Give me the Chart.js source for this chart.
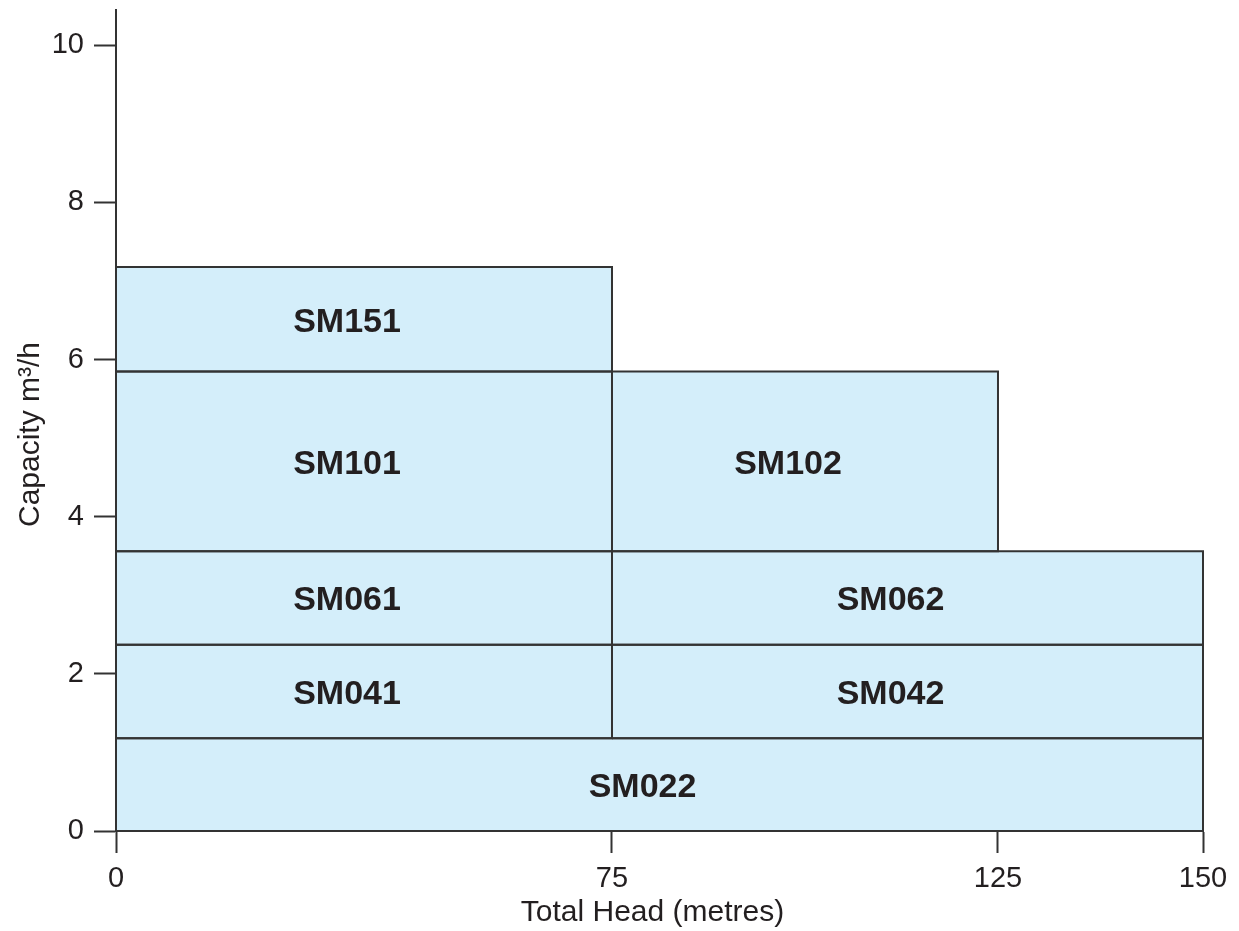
<!DOCTYPE html>
<html>
<head>
<meta charset="utf-8">
<script src="https://cdn.jsdelivr.net/npm/chart.js@4/dist/chart.umd.min.js"></script>
<style>
  html, body { margin: 0; padding: 0; background: #ffffff; }
  #wrap { width: 1239px; height: 931px; position: relative; }
</style>
</head>
<body>
<div id="wrap"><canvas id="c" width="1239" height="931"></canvas></div>
<script>
// ---- Data ----
const models   = ['SM022', 'SM041', 'SM042', 'SM061', 'SM062', 'SM101', 'SM102', 'SM151'];
const headFrom = [0,       0,       75,      0,       75,      0,       75,      0];
const headTo   = [150,     75,      150,     75,      150,     75,      125,     75];
const capFrom  = [0,       1.18,    1.18,    2.37,    2.37,    3.56,    3.56,    5.85];
const capTo    = [1.18,    2.37,    2.37,    3.56,    3.56,    5.85,    5.85,    7.18];
const xTicks   = [0, 75, 125, 150];
const yTicks   = [0, 2, 4, 6, 8, 10];
const xTitle   = 'Total Head (metres)';
const yTitle   = 'Capacity m³/h';

// ---- Styles / layout ----
const FILL = 'rgb(212, 238, 250)';
const INK = '#333333';
const TEXT = '#231f20';
const FONT = '"Liberation Sans", Arial, Helvetica, sans-serif';
// the original's head axis is not to scale: fraction of axis width at each tick
const X_TICK_FRACTIONS = [0, 0.4563, 0.8114, 1];

class PiecewiseScale extends Chart.LinearScale {
  static id = 'piecewise';
  _toDecimal(value) {
    const v = xTicks, d = X_TICK_FRACTIONS;
    let i = 1;
    while (i < v.length - 1 && value > v[i]) i++;
    return d[i - 1] + (value - v[i - 1]) / (v[i] - v[i - 1]) * (d[i] - d[i - 1]);
  }
  getPixelForValue(value) {
    if (value === null || value === undefined) return NaN;
    return this.getPixelForDecimal(this._toDecimal(value));
  }
  getValueForPixel(pixel) {
    const dec = this.getDecimalForPixel(pixel);
    const v = xTicks, d = X_TICK_FRACTIONS;
    let i = 1;
    while (i < d.length - 1 && dec > d[i]) i++;
    return v[i - 1] + (dec - d[i - 1]) / (d[i] - d[i - 1]) * (v[i] - v[i - 1]);
  }
}
Chart.register(PiecewiseScale);

const datasets = [];
models.forEach((m, i) => {
  datasets.push({
    label: m + ' area',
    data: [{x: headFrom[i], y: capTo[i]}, {x: headTo[i], y: capTo[i]}],
    fill: {value: capFrom[i]},
    backgroundColor: FILL,
    borderWidth: 0,
    borderColor: 'rgba(0,0,0,0)',
    pointRadius: 0,
    clip: false,
    order: 2
  });
});
models.forEach((m, i) => {
  datasets.push({
    label: m,
    data: [
      {x: headFrom[i], y: capFrom[i]},
      {x: headFrom[i], y: capTo[i]},
      {x: headTo[i], y: capTo[i]},
      {x: headTo[i], y: capFrom[i]},
      {x: headFrom[i], y: capFrom[i]}
    ],
    fill: false,
    borderColor: INK,
    borderWidth: 2,
    pointRadius: 0,
    tension: 0,
    clip: false,
    order: 1
  });
});

const labelPlugin = {
  id: 'boxLabels',
  afterDatasetsDraw(chart) {
    const {ctx, scales: {x, y}} = chart;
    ctx.save();
    ctx.fillStyle = TEXT;
    ctx.font = 'bold 34px ' + FONT;
    ctx.textAlign = 'center';
    ctx.textBaseline = 'middle';
    models.forEach((m, i) => {
      const cx = (x.getPixelForValue(headFrom[i]) + x.getPixelForValue(headTo[i])) / 2 - 17;
      const cy = (y.getPixelForValue(capFrom[i]) + y.getPixelForValue(capTo[i])) / 2 + 3;
      ctx.fillText(m, cx, cy);
    });
    ctx.restore();
  },
  afterDraw(chart) {
    const {ctx, chartArea} = chart;
    ctx.save();
    ctx.fillStyle = TEXT;
    ctx.font = '30px ' + FONT;
    ctx.textAlign = 'center';
    ctx.textBaseline = 'alphabetic';
    ctx.fillText(xTitle, (chartArea.left + chartArea.right) / 2 - 7, chartArea.bottom + 90);
    ctx.translate(chartArea.left - 77, (chartArea.top + chartArea.bottom) / 2 + 14);
    ctx.rotate(-Math.PI / 2);
    ctx.fillText(yTitle, 0, 0);
    ctx.restore();
  }
};

new Chart(document.getElementById('c'), {
  type: 'line',
  data: { datasets },
  options: {
    responsive: false,
    animation: false,
    events: [],
    layout: { padding: { top: 10, right: 36, left: 0, bottom: 0 } },
    plugins: {
      legend: { display: false },
      tooltip: { enabled: false },
      filler: { drawTime: 'beforeDatasetsDraw' }
    },
    scales: {
      x: {
        type: 'piecewise',
        min: 0,
        max: 150,
        afterBuildTicks(scale) { scale.ticks = xTicks.map(v => ({value: v})); },
        afterFit(scale) { scale.height = 100; scale.paddingLeft = 0; scale.paddingRight = 0; },
        border: { display: true, color: INK, width: 2 },
        grid: { display: true, drawOnChartArea: false, drawTicks: true, tickLength: 22, tickColor: INK, tickWidth: 2 },
        ticks: { color: TEXT, font: { family: FONT, size: 29 }, padding: 9, maxRotation: 0, autoSkip: false }
      },
      y: {
        type: 'linear',
        min: 0,
        max: 10.45,
        afterBuildTicks(scale) { scale.ticks = yTicks.map(v => ({value: v})); },
        afterFit(scale) { scale.width = 116; scale.paddingTop = 0; scale.paddingBottom = 0; },
        border: { display: true, color: INK, width: 2 },
        grid: { display: true, drawOnChartArea: false, drawTicks: true, tickLength: 22, tickColor: INK, tickWidth: 2 },
        ticks: { color: TEXT, font: { family: FONT, size: 29 }, padding: 10, autoSkip: false }
      }
    }
  },
  plugins: [labelPlugin]
});
</script>
</body>
</html>
